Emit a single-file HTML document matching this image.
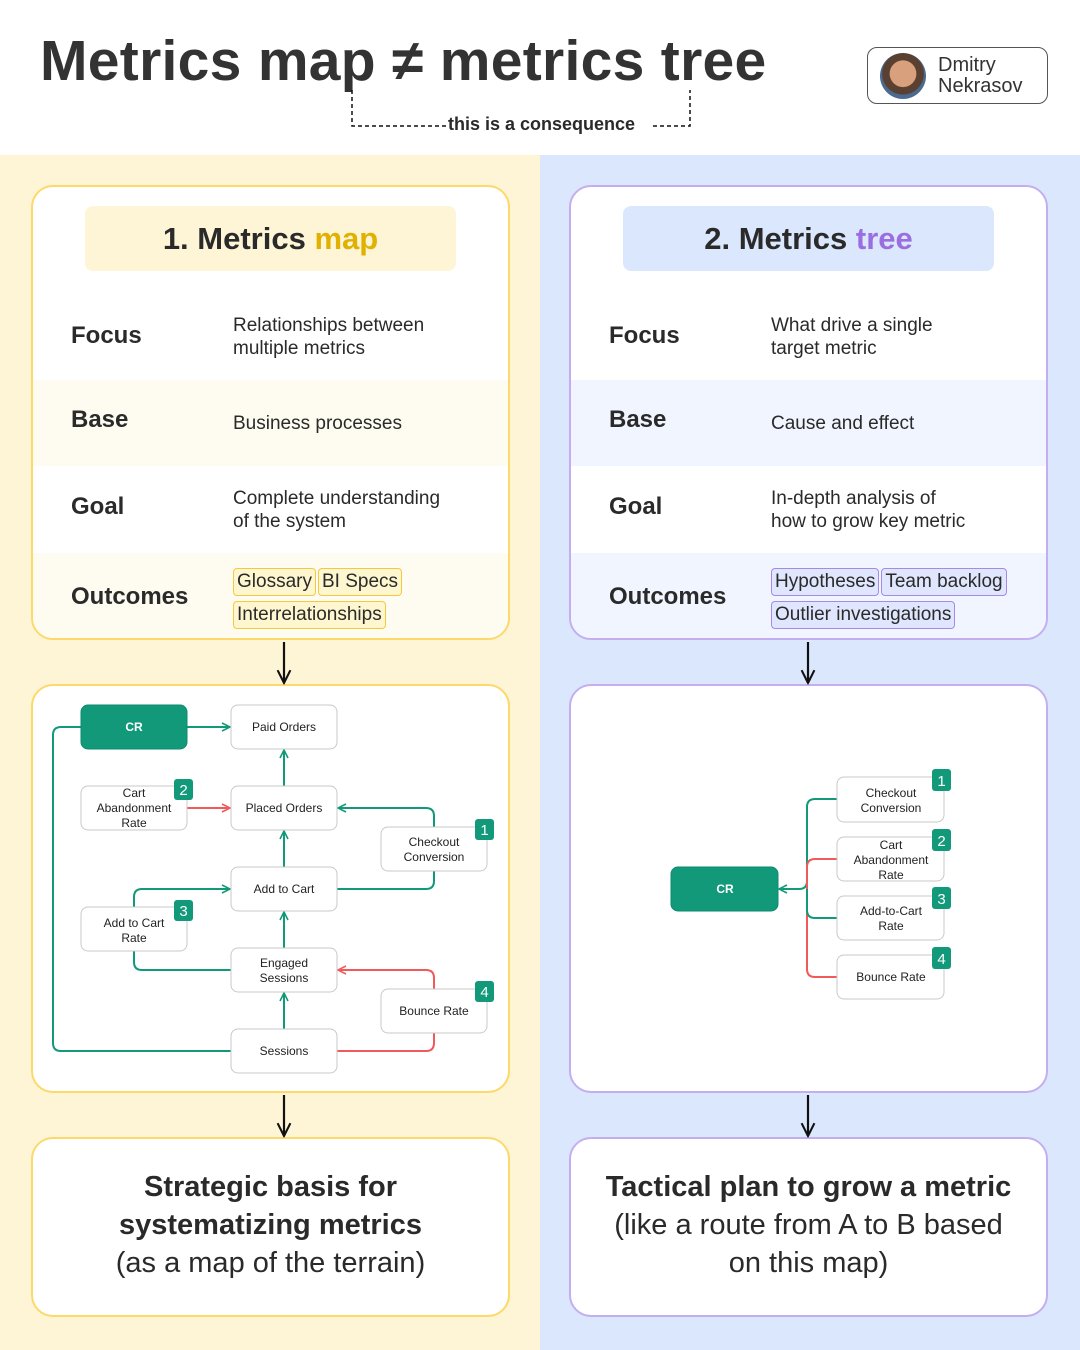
<!DOCTYPE html>
<html><head><meta charset="utf-8"><style>
*{margin:0;padding:0;box-sizing:border-box}
body{width:1080px;height:1350px;position:relative;overflow:hidden;background:#fff;font-family:"Liberation Sans",sans-serif;color:#2a2a2a}
.abs{position:absolute}
.card{position:absolute;background:#fff;border-radius:22px;overflow:hidden}
.L .card{border:2px solid #fcd96a}
.R .card{border:2px solid #c4aef0}
.pill{position:absolute;left:52px;top:19px;width:371px;height:65px;border-radius:8px;font-weight:bold;font-size:31px;text-align:center;line-height:65px}
.row{position:absolute;left:0;width:100%}
.lab{position:absolute;left:38px;font-weight:bold;font-size:24px}
.desc{position:absolute;left:200px;font-size:19px;line-height:23px}
.tag{display:inline-block;font-size:19px;padding:1px 3px;border-radius:4px;margin-right:2px;line-height:24px}
.L .tag{background:#fef6cf;border:1px solid #f5c842}
.R .tag{background:#dfe6fd;border:1px solid #a58ae6}
.bot{position:absolute;width:100%;text-align:center;font-size:29px;line-height:38px}
</style></head><body>
<div class="abs" style="left:40px;top:28px;font-size:57px;font-weight:bold;color:#333;letter-spacing:0.3px">Metrics map ≠ metrics tree</div>
<svg class="abs" style="left:0;top:0" width="1080" height="155">
<path d="M352 90 V126 H446 M653 126 H690 V90" fill="none" stroke="#111" stroke-width="1.5" stroke-dasharray="4 3"/>
</svg>
<div class="abs" style="left:448px;top:114px;font-size:18px;font-weight:bold">this is a consequence</div>
<div class="abs" style="left:867px;top:47px;width:181px;height:57px;border:1.5px solid #555;border-radius:10px"></div>
<div class="abs" style="left:880px;top:53px;width:46px;height:46px;border-radius:50%;background:radial-gradient(circle at 50% 45%,#d9a07d 0 38%,#5a4030 40% 60%,#4a6a90 62%)"></div>
<div class="abs" style="left:938px;top:55px;font-size:20px;line-height:21px;color:#333">Dmitry<br>Nekrasov</div>

<div class="abs" style="left:0;top:155px;width:540px;height:1195px;background:#fdf5d6"></div>
<div class="abs" style="left:540px;top:155px;width:540px;height:1195px;background:#dbe7fd"></div>

<div class="L">
<div class="card" style="left:31px;top:185px;width:479px;height:455px">
<div class="pill" style="background:#fdf5d6">1. Metrics <span style="color:#e0b100">map</span></div>
<div class="row" style="top:105px;height:88px"><div class="lab" style="top:30px">Focus</div><div class="desc" style="top:22px">Relationships between<br>multiple metrics</div></div>
<div class="row" style="top:193px;height:86px;background:#fefcf0"><div class="lab" style="top:26px">Base</div><div class="desc" style="top:32px">Business processes</div></div>
<div class="row" style="top:279px;height:87px"><div class="lab" style="top:27px">Goal</div><div class="desc" style="top:21px">Complete understanding<br>of the system</div></div>
<div class="row" style="top:366px;height:89px;background:#fefcf0"><div class="lab" style="top:30px">Outcomes</div><div class="desc" style="top:12px;line-height:33px"><span class="tag">Glossary</span><span class="tag">BI Specs</span><br><span class="tag">Interrelationships</span></div></div>
</div>
<div class="card" style="left:31px;top:684px;width:479px;height:409px"></div>
<div class="card" style="left:31px;top:1137px;width:479px;height:180px"><div class="bot" style="top:29px"><b>Strategic basis for<br>systematizing metrics</b><br>(as a map of the terrain)</div></div>
</div>

<div class="R">
<div class="card" style="left:569px;top:185px;width:479px;height:455px">
<div class="pill" style="background:#dbe7fd">2. Metrics <span style="color:#9a6ee0">tree</span></div>
<div class="row" style="top:105px;height:88px"><div class="lab" style="top:30px">Focus</div><div class="desc" style="top:22px">What drive a single<br>target metric</div></div>
<div class="row" style="top:193px;height:86px;background:#f0f5ff"><div class="lab" style="top:26px">Base</div><div class="desc" style="top:32px">Cause and effect</div></div>
<div class="row" style="top:279px;height:87px"><div class="lab" style="top:27px">Goal</div><div class="desc" style="top:21px">In-depth analysis of<br>how to grow key metric</div></div>
<div class="row" style="top:366px;height:89px;background:#f0f5ff"><div class="lab" style="top:30px">Outcomes</div><div class="desc" style="top:12px;line-height:33px"><span class="tag">Hypotheses</span><span class="tag">Team backlog</span><br><span class="tag">Outlier investigations</span></div></div>
</div>
<div class="card" style="left:569px;top:684px;width:479px;height:409px"></div>
<div class="card" style="left:569px;top:1137px;width:479px;height:180px"><div class="bot" style="top:29px"><b>Tactical plan to grow a metric</b><br>(like a route from A to B based<br>on this map)</div></div>
</div>

<svg class="abs" style="left:0;top:0" width="1080" height="1350" font-family="Liberation Sans, sans-serif">
<defs>
<marker id="ag" viewBox="0 0 10 10" refX="9" refY="5" markerWidth="10" markerHeight="10" markerUnits="userSpaceOnUse" orient="auto"><path d="M1 1 L9 5 L1 9" fill="none" stroke="#12997a" stroke-width="1.6"/></marker>
<marker id="ar" viewBox="0 0 10 10" refX="9" refY="5" markerWidth="10" markerHeight="10" markerUnits="userSpaceOnUse" orient="auto"><path d="M1 1 L9 5 L1 9" fill="none" stroke="#f05a5a" stroke-width="1.6"/></marker>
<marker id="ak" viewBox="0 0 10 10" refX="9" refY="5" markerWidth="16" markerHeight="16" markerUnits="userSpaceOnUse" orient="auto"><path d="M1 1 L9 5 L1 9" fill="none" stroke="#111" stroke-width="1.3"/></marker>
</defs>
<g stroke="#111" stroke-width="2.2"><path d="M284 642 V683" marker-end="url(#ak)"/><path d="M284 1095 V1136" marker-end="url(#ak)"/><path d="M808 642 V683" marker-end="url(#ak)"/><path d="M808 1095 V1136" marker-end="url(#ak)"/></g>
<g fill="none" stroke-width="2">
<path d="M81 727 H61 Q53 727 53 735 V1043 Q53 1051 61 1051 H231" stroke="#12997a"/>
<path d="M187 727 H230" stroke="#12997a" marker-end="url(#ag)"/>
<path d="M284 786 V750" stroke="#12997a" marker-end="url(#ag)"/>
<path d="M187 808 H230" stroke="#f05a5a" marker-end="url(#ar)"/>
<path d="M434 827 V816 Q434 808 426 808 H338" stroke="#12997a" marker-end="url(#ag)"/>
<path d="M434 871 V881 Q434 889 426 889 H337" stroke="#12997a"/>
<path d="M284 867 V831" stroke="#12997a" marker-end="url(#ag)"/>
<path d="M134 907 V897 Q134 889 142 889 H230" stroke="#12997a" marker-end="url(#ag)"/>
<path d="M134 951 V962 Q134 970 142 970 H231" stroke="#12997a"/>
<path d="M284 948 V912" stroke="#12997a" marker-end="url(#ag)"/>
<path d="M434 989 V978 Q434 970 426 970 H338" stroke="#f05a5a" marker-end="url(#ar)"/>
<path d="M434 1033 V1043 Q434 1051 426 1051 H337" stroke="#f05a5a"/>
<path d="M284 1029 V993" stroke="#12997a" marker-end="url(#ag)"/>
<path d="M837 799 H815 Q807 799 807 807 V881 Q807 889 799 889 H779" stroke="#12997a" marker-end="url(#ag)"/>
<path d="M837 859 H815 Q807 859 807 867 V969 Q807 977 815 977 H837" stroke="#f05a5a"/>
<path d="M837 918 H815 Q807 918 807 910 V889" stroke="#12997a"/>
</g>
<g font-size="12" fill="#222" text-anchor="middle">
<rect x="81" y="705" width="106" height="44" rx="7" fill="#12997a" stroke="#0e8a6d"/><text x="134" y="731" fill="#fff" font-weight="bold">CR</text>
<g fill="#fff" stroke="#c8c8c8"><rect x="231" y="705" width="106" height="44" rx="7"/><rect x="81" y="786" width="106" height="44" rx="7"/><rect x="231" y="786" width="106" height="44" rx="7"/><rect x="381" y="827" width="106" height="44" rx="7"/><rect x="231" y="867" width="106" height="44" rx="7"/><rect x="81" y="907" width="106" height="44" rx="7"/><rect x="231" y="948" width="106" height="44" rx="7"/><rect x="381" y="989" width="106" height="44" rx="7"/><rect x="231" y="1029" width="106" height="44" rx="7"/>
<rect x="837" y="777" width="107" height="45" rx="7"/><rect x="837" y="837" width="107" height="44" rx="7"/><rect x="837" y="896" width="107" height="44" rx="7"/><rect x="837" y="955" width="107" height="44" rx="7"/></g>
<text x="284" y="731">Paid Orders</text>
<text x="134" y="797">Cart</text><text x="134" y="812">Abandonment</text><text x="134" y="827">Rate</text>
<text x="284" y="812">Placed Orders</text>
<text x="434" y="846">Checkout</text><text x="434" y="861">Conversion</text>
<text x="284" y="893">Add to Cart</text>
<text x="134" y="927">Add to Cart</text><text x="134" y="942">Rate</text>
<text x="284" y="967">Engaged</text><text x="284" y="982">Sessions</text>
<text x="434" y="1015">Bounce Rate</text>
<text x="284" y="1055">Sessions</text>
<rect x="671" y="867" width="107" height="44" rx="7" fill="#12997a" stroke="#0e8a6d"/><text x="725" y="893" fill="#fff" font-weight="bold">CR</text>
<text x="891" y="797">Checkout</text><text x="891" y="812">Conversion</text>
<text x="891" y="849">Cart</text><text x="891" y="864">Abandonment</text><text x="891" y="879">Rate</text>
<text x="891" y="915">Add-to-Cart</text><text x="891" y="930">Rate</text>
<text x="891" y="981">Bounce Rate</text>
</g>
<g font-size="15" fill="#fff" text-anchor="middle">
<rect x="174" y="779" width="19" height="21" rx="3" fill="#12997a"/><text x="183.5" y="795">2</text>
<rect x="475" y="819" width="19" height="21" rx="3" fill="#12997a"/><text x="484.5" y="835">1</text>
<rect x="174" y="900" width="19" height="21" rx="3" fill="#12997a"/><text x="183.5" y="916">3</text>
<rect x="475" y="981" width="19" height="21" rx="3" fill="#12997a"/><text x="484.5" y="997">4</text>
<rect x="932" y="769" width="19" height="22" rx="3" fill="#12997a"/><text x="941.5" y="786">1</text>
<rect x="932" y="829" width="19" height="22" rx="3" fill="#12997a"/><text x="941.5" y="846">2</text>
<rect x="932" y="887" width="19" height="22" rx="3" fill="#12997a"/><text x="941.5" y="904">3</text>
<rect x="932" y="947" width="19" height="22" rx="3" fill="#12997a"/><text x="941.5" y="964">4</text>
</g>
</svg>
</body></html>
